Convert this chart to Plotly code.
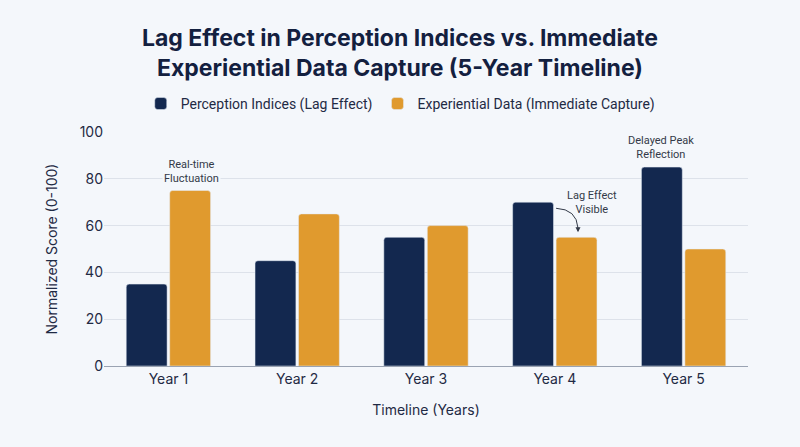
import plotly.graph_objects as go

years = ["Year 1", "Year 2", "Year 3", "Year 4", "Year 5"]
perception = [35, 45, 55, 70, 85]
experiential = [75, 65, 60, 55, 50]

navy = "#13284f"
orange = "#e09a2e"
bg = "#f4f7fb"
font = "Inter"
txt = "#1f2a44"

fig = go.Figure()
fig.add_trace(go.Bar(x=years, y=perception, name="Perception Indices (Lag Effect)",
                     marker_color=navy))
fig.add_trace(go.Bar(x=years, y=experiential, name="Experiential Data (Immediate Capture)",
                     marker_color=orange))

# annotations on bars
note = dict(family="Roboto", size=11, color="#333a48")
fig.add_annotation(x=years[0], y=experiential[0], xshift=23, yshift=4,
                   text="Real-time<br>Fluctuation", showarrow=False, yanchor="bottom",
                   font=note, bgcolor=bg)
fig.add_annotation(x=years[4], y=perception[4], xshift=-23, yshift=4,
                   text="Delayed Peak<br>Reflection", showarrow=False, yanchor="bottom",
                   font=note)
fig.add_annotation(x=years[3], y=experiential[3], xshift=37, yshift=19,
                   text="Lag Effect<br>Visible", showarrow=False, yanchor="bottom",
                   font=note)
# curved arrow: path + arrowhead
fig.add_shape(type="path", xref="x", yref="y",
              path="M 3.01,67.4 Q 3.17,67 3.18,59",
              line=dict(color="#333a48", width=1))
fig.add_annotation(x=3.18, y=57.2, ax=0, ay=-6, showarrow=True, arrowhead=2,
                   arrowsize=1, arrowwidth=1, arrowcolor="#333a48", text="")

fig.update_layout(
    title=dict(text="<b>Lag Effect in Perception Indices vs. Immediate<br>Experiential Data Capture (5-Year Timeline)</b>",
               x=0.5, xanchor="center", y=0.897, yanchor="middle",
               font=dict(family=font, size=23, color="#13203f")),
    legend=dict(orientation="h", x=0.46, xanchor="center", y=1.12, yanchor="middle",
                font=dict(family="Roboto", size=14, color=txt), bgcolor="rgba(0,0,0,0)"),
    barmode="group", bargap=0.325, bargroupgap=0.06, barcornerradius=3,
    paper_bgcolor=bg, plot_bgcolor=bg,
    margin=dict(l=104, r=52, t=132, b=81),
    width=800, height=447,
    xaxis=dict(title=dict(text="Timeline (Years)", font=dict(family=font, size=14, color=txt), standoff=19),
               tickfont=dict(family=font, size=14, color=txt),
               showline=True, linecolor="#9aa3b2", linewidth=1, ticks=""),
    yaxis=dict(title=dict(text="Normalized Score (0-100)", font=dict(family=font, size=14, color=txt), standoff=18),
               tickfont=dict(family=font, size=14, color=txt),
               range=[0, 100], tickvals=[0, 20, 40, 60, 80, 100],
               gridcolor="#dde2ea", gridwidth=1, zeroline=False),
)

fig.write_html("out.html", config={"displayModeBar": False},
               post_script="document.body.style.margin='0';")
